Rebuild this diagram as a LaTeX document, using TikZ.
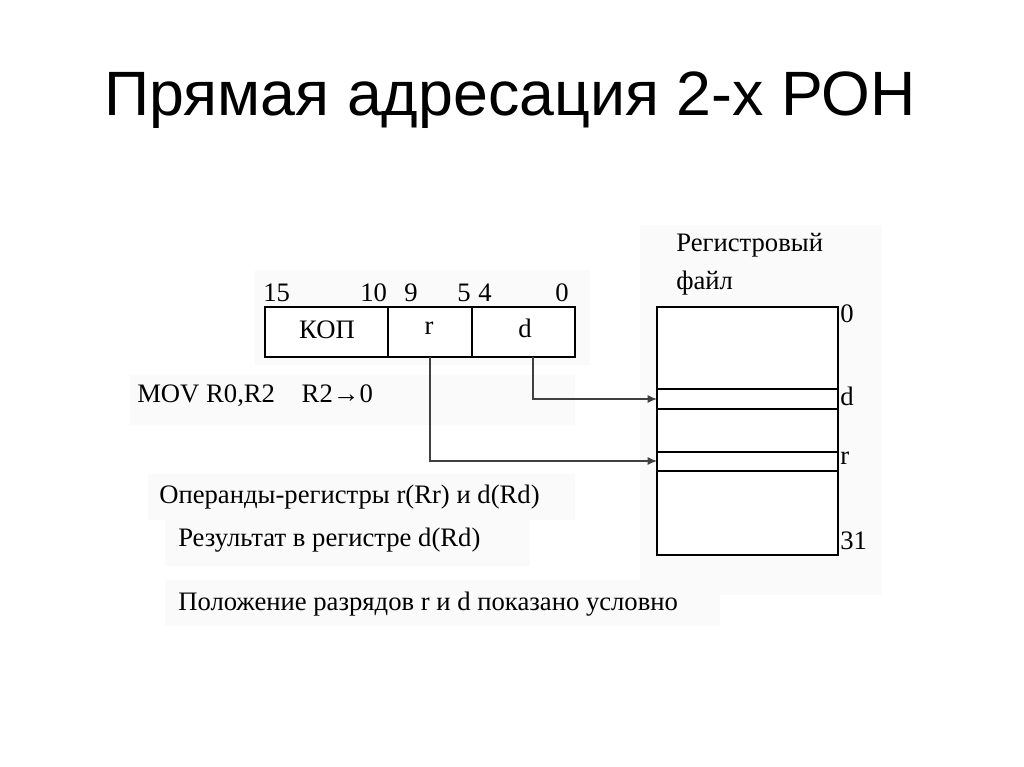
\documentclass[tikz,border=0pt]{standalone}
\usepackage{fontspec}
\setmainfont{Liberation Serif}
\newfontfamily\titlefont{Liberation Sans}
\usetikzlibrary{arrows.meta}
\begin{document}
\begin{tikzpicture}[x=0.75pt,y=-0.75pt,
  lbl/.style={inner sep=0pt,anchor=west,font=\fontsize{20}{24}\selectfont},
  cell/.style={inner sep=0pt,font=\fontsize{20}{24}\selectfont},
  bg/.style={fill=black!2,draw=none},
  conn/.style={draw=black!75,line width=0.9pt,-{Latex[length=7pt,width=6pt]}}]
\useasboundingbox (0,0) rectangle (1024,767);
\fill[white] (0,0) rectangle (1024,767);
\fill[bg] (130,375) rectangle (575,425);
\fill[bg] (148,474) rectangle (575,520);
\fill[bg] (165,520) rectangle (530,566);
\fill[bg] (165,580) rectangle (720,626);
\fill[bg] (640,225) rectangle (882,595);
\fill[bg] (255,270) rectangle (590,365);
\node[font=\titlefont\fontsize{47}{54}\selectfont] (title) at (510,100) {Прямая адресация 2-х РОН};
% instruction
\draw[line width=0.8pt,fill=white] (265,307) rectangle (575,357);
\draw[line width=0.8pt] (388,307) -- (388,357) (472,307) -- (472,357);
\node[cell] (kop) at (327,330) {КОП};
\node[cell] (r) at (429,328) {r};
\node[cell] (d) at (525,328) {d};
\coordinate (rb) at (430,357);
\coordinate (db) at (533,357);
\node[lbl] (b15) at (263,293) {15};
\node[lbl] (b10) at (360,293) {10};
\node[lbl] (b9) at (404,293) {9};
\node[lbl] (b5) at (457,293) {5};
\node[lbl] (b4) at (478,293) {4};
\node[lbl] (b0) at (555,293) {0};
% register file
\draw[line width=0.8pt,fill=white] (657,307) rectangle (838,555);
\draw[line width=0.8pt] (657,389) -- (838,389) (657,409) -- (838,409)
  (657,452) -- (838,452) (657,471) -- (838,471);
\coordinate (dreg) at (657,399);
\coordinate (rreg) at (657,461);
\node[lbl] (rf1) at (676,245) {Регистровый};
\node[lbl] (rf2) at (676,283) {файл};
\node[lbl] (l0) at (840,314) {0};
\node[lbl] (ld) at (840,396) {d};
\node[lbl] (lr) at (840,458) {r};
\node[lbl] (l31) at (840,541) {31};
\draw[conn] (db) |- (dreg);
\draw[conn] (rb) |- (rreg);
\node[lbl] (mov) at (137,396) {MOV R0,R2\quad R2→0};
\node[lbl] (t1) at (159,497) {Операнды-регистры r(Rr) и d(Rd)};
\node[lbl] (t2) at (178,540) {Результат в регистре d(Rd)};
\node[lbl] (t3) at (178,604) {Положение разрядов r и d показано условно};
\end{tikzpicture}
\end{document}
